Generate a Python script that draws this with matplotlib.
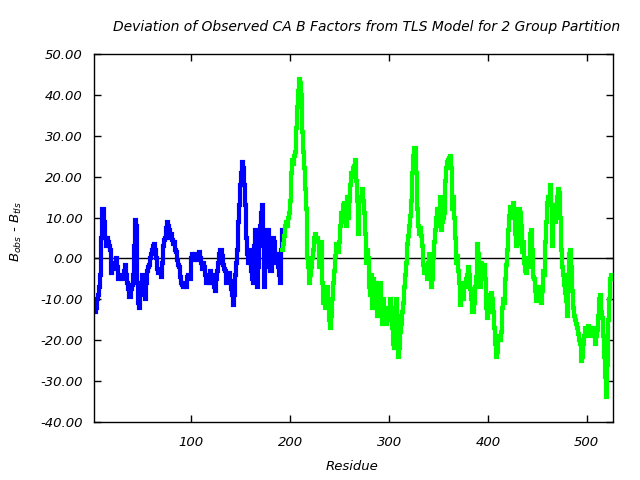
import numpy as np
import matplotlib
matplotlib.use("Agg")
import matplotlib.pyplot as plt
from matplotlib.ticker import FuncFormatter, FixedLocator

plt.rcParams['font.family'] = ['DejaVu Sans']
plt.rcParams['font.style'] = 'italic'
plt.rcParams['mathtext.fontset'] = 'dejavusans'
plt.rcParams['mathtext.default'] = 'it'

title = "Deviation of Observed CA B Factors from TLS Model for 2 Group Partition"
xlabel = "Residue"
ylabel = r"$B_{obs}$ - $B_{tls}$"

blue_start, blue_end = 2, 192
blue_vals = [
    -11, -13, -12, -10, -9, -7, -4, 5, 12, 12,
    9, 5, 3, 5, 4, 3, 2, -3.5, -2, -1.5,
    -2.5, -1, 0, -2, -5, -4.5, -4, -4.5, -5, -5,
    -3, -1.5, -4, -6, -7.5, -9.5, -9.5, -7.5, -6.5, -4,
    3, 9.5, 8, 3, -6, -11, -12, -8, -6, -4,
    -6, -9, -10, -6, -3, -2, -1.5, 0, 1, 2,
    3, 3.5, 2, 0, -2.5, -3.5, -3.5, -3, -4.5, -1,
    3, 4.5, 5, 7.5, 9, 8, 7, 5, 6, 4.5,
    3.5, 4, 2, 1.5, -0.5, -1.5, -2, -4.5, -6, -6.5,
    -7, -6, -6, -7, -4.5, -4, -4.5, -5, 0, 1,
    0, -0.5, 1, 0, -0.5, 0.5, 1.5, 0, -1, -2.5,
    -1, -2, -4, -6, -4.5, -5.5, -6, -3, -6, -4,
    -4.5, -7, -8, -5, -3, -1, 1, 2, 2, 1.5,
    0.5, -1.5, -2.5, -3, -6, -5, -4, -3.5, -5.5, -7.5,
    -9, -11.5, -9, -4, -1, 2, 9, 13, 18, 21,
    23.5, 22, 18, 13, 5, 1, -1, 2, -1, -3,
    -5, -6, 3, 7, 0, -7, -2, 3, 8, 11,
    13, 5, -7, -2, 5, 7, 7, 1, -3, -3,
    0, 5, 4, 1, -1, 1, -2, -4, -6, 2,
    7,
]

green_start, green_end = 192, 526
green_vals = [
    2, 3.5, 5.5, 8, 9, 8, 10, 11, 14, 21,
    24, 23, 25, 26, 32, 37, 41, 44, 43, 40,
    31, 26, 22, 17, 12, 5, 0, -2, -6, -4,
    -2, 0, 2, 5, 6, 5, 5, 4, -2, 1,
    4, -6, -11, -9, -12, -9, -7, -11, -15, -17,
    -14, -10, -6, -3, 0.5, 3.5, 2, 1.5, 4, 8,
    11, 10, 13, 13.5, 9, 8, 15, 10, 14, 18,
    21, 20, 22, 22.5, 24, 19, 14, 6, 14, 15,
    14, 17, 14, 11, 6, -1, 2, 0, -7, -9,
    -4, -12, -5, -10, -12, -6, -14, -12, -8, -6,
    -13, -16, -10, -13, -16, -16, -12, -14, -15, -10,
    -12, -13, -17, -21, -22, -17, -10, -14, -24, -22,
    -18, -16, -13, -11, -7, -4, -1, 3.5, 5.5, 8,
    10.5, 14, 21, 25, 27, 27, 21, 12, 8, 6,
    7.5, 5.5, 3, -1.5, -3.5, -2, -3.5, -5, -1, 1,
    -2, -7, -5, 0, 4, 7, 10, 12, 9, 8,
    15, 7, 9, 10, 11, 19, 22, 23.5, 24, 24.5,
    25, 22, 12, 15, 10, 5, -1, 0.5, -3, -6,
    -11.5, -10, -9, -10, -6, -7, -5, -4, -2, -4,
    -7.5, -10, -13, -13, -11, -7, -4.5, -0.5, 3.5, 1,
    -4, -7, -1, -3, -4, -1.5, -5, -12, -14.5, -13,
    -11, -9, -8.5, -10, -13, -17, -21, -24, -23, -20,
    -19, -20, -18, -12, -10, -11, -5, -1.5, 2, 7,
    10.5, 12.5, 12, 10, 13.5, 12, 6, 3, 3.5, 8.5,
    12, 11, 8, 1.5, 4, -1, -3, -3.5, -0.5, 0,
    -2, 6, 7, 2, -4.5, -5, -8, -10.5, -10, -7,
    -9, -7, -11, -8, -3, -4, 4, 9, 13.5, 15,
    15, 18, 13, 3, 10, 13, 9, 13, 15, 17,
    16, 10, 2, -0.5, -2, -4, -6.5, -8.5, -10.5, -14,
    -4, 1, 2, -2, -8, -12, -14, -15, -16, -17,
    -18.5, -20, -21, -25, -24, -21, -19, -17, -18, -19,
    -16.5, -18, -18, -17, -19, -17, -19, -21, -19, -17.5,
    -14, -10, -9, -13, -14.5, -19, -24, -29, -34, -26,
    -15, -10, -5, -4, -4,
]

xticks = [100, 200, 300, 400, 500]
yticks = [-40, -30, -20, -10, 0, 10, 20, 30, 40, 50]

blue_res = np.arange(blue_start, blue_end + 1)
green_res = np.arange(green_start, green_end + 1)

fig = plt.figure(figsize=(6.4, 4.8), dpi=100)
ax = fig.add_axes([94/640, 1 - 422/480, (613 - 94)/640, (422 - 54)/480])

ax.axhline(0, color='black', lw=1.0, zorder=1)
ax.plot(blue_res, blue_vals, color='#0000ff', lw=3.0, zorder=2,
        drawstyle='steps-mid', solid_joinstyle='miter')
ax.plot(green_res, green_vals, color='#00ff00', lw=3.0, zorder=3,
        drawstyle='steps-mid', solid_joinstyle='miter')

ax.set_xlim(1.5, 526.6)
ax.set_ylim(-40, 50)
ax.xaxis.set_major_locator(FixedLocator(xticks))
ax.yaxis.set_major_locator(FixedLocator(yticks))
ax.yaxis.set_major_formatter(FuncFormatter(lambda v, p: f"{v:.2f}"))
ax.xaxis.set_major_formatter(FuncFormatter(lambda v, p: f"{int(v)}"))
ax.tick_params(direction='in', length=5, width=1, top=True, right=True,
               labelsize=9.5, colors='black')
ax.tick_params(axis='y', pad=8)
ax.tick_params(axis='x', pad=10)
for s in ax.spines.values():
    s.set_linewidth(1.0)
    s.set_color('black')

fig.text(367/640, 1 - 27/480, title, ha='center', va='center', fontsize=10, style='italic')
fig.text(352/640, 1 - 467/480, xlabel, ha='center', va='center', fontsize=9.5, style='italic')
fig.text(16/640, 1 - 232/480, ylabel, ha='center', va='center', rotation=90, fontsize=9.5, style='italic')

fig.savefig("out.png", dpi=100)
